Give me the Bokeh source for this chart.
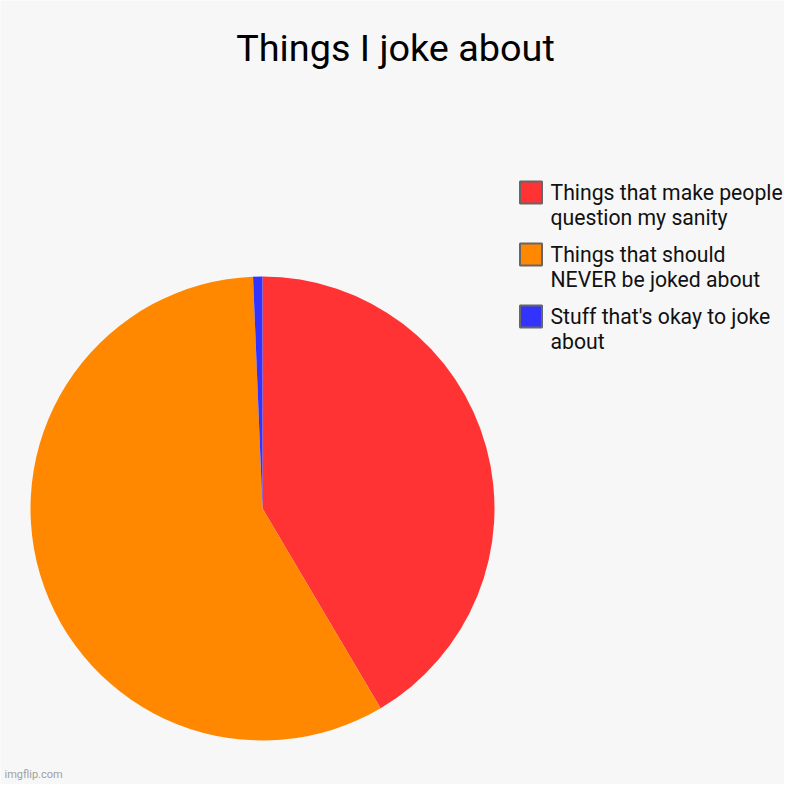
import numpy as np
from bokeh.plotting import figure
from bokeh.models import Range1d, ColumnDataSource
from bokeh.core.properties import value
from bokeh.embed import file_html
from bokeh.resources import INLINE

title = "Things I joke about"
labels = ["Things that make people\nquestion my sanity",
          "Things that should\nNEVER be joked about",
          "Stuff that's okay to joke\nabout"]
values = [41.5, 57.85, 0.65]
colors = ["#ff3333", "#ff8800", "#3333ff"]

W, H = 784, 784
p = figure(width=W, height=H, output_backend="svg", toolbar_location=None,
           x_range=Range1d(0, W), y_range=Range1d(0, H), min_border=0)
p.axis.visible = False
p.grid.visible = False
p.outline_line_color = None
p.background_fill_color = "#f7f7f7"
p.border_fill_color = "#f7f7f7"

def X(sx): return sx
def Y(sy): return H - sy

# pie
vals = np.array(values)
frac = vals / vals.sum()
cum = np.concatenate([[0], np.cumsum(frac)])
start = np.pi / 2 - cum[:-1] * 2 * np.pi
end = np.pi / 2 - cum[1:] * 2 * np.pi
src = ColumnDataSource(dict(start=start, end=end, color=colors))
p.wedge(x=X(262), y=Y(508), radius=232, radius_units="screen",
        start_angle="start", end_angle="end", direction="clock",
        fill_color="color", line_color=None, source=src)

# title
p.text(x=[X(395)], y=[Y(47)], text=[title], text_font=value("Roboto"),
       text_font_size="37.8px", text_align="center", text_baseline="alphabetic",
       text_color="#000000")

# legend
font = value("Roboto")
for i, (lab, col) in enumerate(zip(labels, colors)):
    cy = 192 + i * 62
    p.rect(x=[X(530.5)], y=[Y(cy)], width=22, height=22, width_units="screen",
           height_units="screen", fill_color=col, line_color="#666666", line_width=2)
    for j, line in enumerate(lab.split("\n")):
        p.text(x=[X(550)], y=[Y(cy + j * 25)], text=[line], text_font=font,
               text_font_size="21.2px", text_align="left",
               text_baseline="alphabetic", text_color="#111111")

# watermark
p.text(x=[X(4)], y=[Y(774)], text=["imgflip.com"], text_font=font,
       text_font_size="11px", text_color="#a0a0a0", text_baseline="alphabetic")

open("out.html", "w").write(file_html(p, INLINE))
